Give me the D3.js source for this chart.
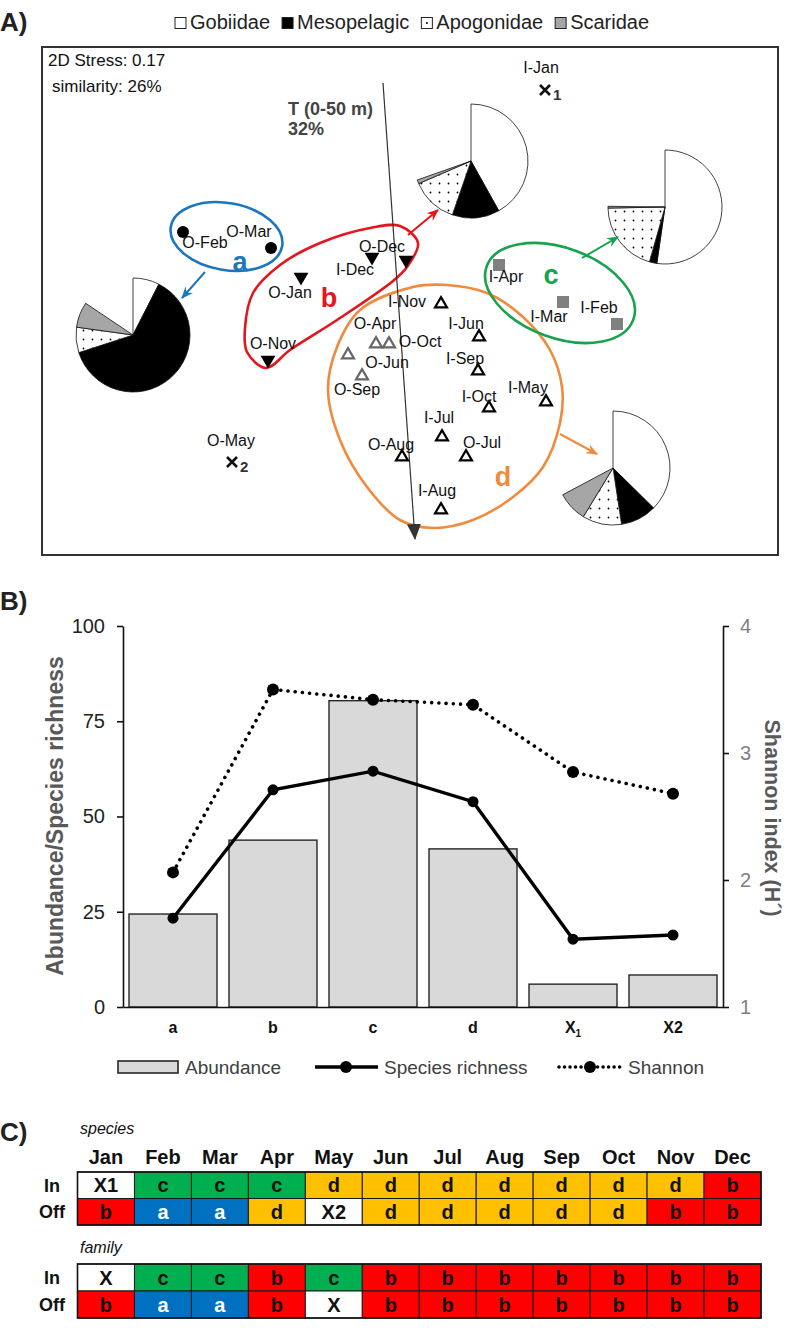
<!DOCTYPE html>
<html lang="en">
<head>
<meta charset="UTF-8">
<title>NMDS fish assemblages</title>
<style>
  body { margin: 0; background: #fff; }
  svg { display: block; }
  text { font-family: "Liberation Sans", Arial, sans-serif; }
  .cal { font-family: Lato, "Open Sans", sans-serif; }
</style>
</head>
<body>
<svg width="787" height="1328"></svg>
<script src="https://d3js.org/d3.v7.min.js"></script>
<script>
// ---------- data: panel A (NMDS) ----------
var families = ["Gobiidae", "Mesopelagic", "Apogonidae", "Scaridae"];

// sample scores on the two NMDS axes
var samples = [
  {name: "O-Feb", group: "a", x: -2.27, y: 0.69},
  {name: "O-Mar", group: "a", x: -1.39, y: 0.53},
  {name: "O-Jan", group: "b", x: -1.09, y: 0.24},
  {name: "I-Dec", group: "b", x: -0.38, y: 0.44},
  {name: "O-Dec", group: "b", x: -0.04, y: 0.41},
  {name: "O-Nov", group: "b", x: -1.42, y: -0.59},
  {name: "I-Apr", group: "c", x: 0.89, y: 0.36},
  {name: "I-Mar", group: "c", x: 1.53, y: -0.01},
  {name: "I-Feb", group: "c", x: 2.07, y: -0.23},
  {name: "I-Nov", group: "d", x: 0.31, y: -0.03},
  {name: "I-Jun", group: "d", x: 0.69, y: -0.36},
  {name: "O-Apr", group: "d", x: -0.34, y: -0.43, grey: true},
  {name: "O-Oct", group: "d", x: -0.21, y: -0.43, grey: true},
  {name: "O-Jun", group: "d", x: -0.62, y: -0.54, grey: true},
  {name: "O-Sep", group: "d", x: -0.48, y: -0.75, grey: true},
  {name: "I-Sep", group: "d", x: 0.68, y: -0.70},
  {name: "I-May", group: "d", x: 1.36, y: -1.01},
  {name: "I-Oct", group: "d", x: 0.79, y: -1.07},
  {name: "I-Jul", group: "d", x: 0.32, y: -1.36},
  {name: "O-Aug", group: "d", x: -0.08, y: -1.56},
  {name: "O-Jul", group: "d", x: 0.56, y: -1.56},
  {name: "I-Aug", group: "d", x: 0.31, y: -2.09},
  {name: "I-Jan", group: "X1", x: 1.35, y: 2.11},
  {name: "O-May", group: "X2", x: -1.78, y: -1.61}
];

// label offsets from each marker (px: dx, baseline dy)
var labelOffset = {
  "O-Feb": [22, 16], "O-Mar": [-22, -11], "O-Jan": [-11, 21], "I-Dec": [-17, 18],
  "O-Dec": [-24, -8], "O-Nov": [5, -11], "I-Apr": [7, 17], "I-Mar": [-14, 20],
  "I-Feb": [-18, -11], "I-Nov": [-34, 3], "I-Jun": [-13, -8], "O-Apr": [-1, -15],
  "O-Oct": [31, 3], "O-Jun": [39, 13], "O-Sep": [-5, 19], "I-Sep": [-13, -7],
  "I-May": [-18, -9], "I-Oct": [-10, -6], "I-Jul": [-3, -14], "O-Aug": [-11, -7],
  "O-Jul": [16, -9], "I-Aug": [-4, -14], "I-Jan": [-4, -17], "O-May": [-1, -16]
};

// cluster outlines (NMDS units)
var hullB = [[-1.57, 0.08], [-1.30, 0.36], [-0.90, 0.58], [-0.40, 0.73], [-0.10, 0.75],
  [0.08, 0.58], [-0.03, 0.34], [-0.17, 0.20], [-0.73, -0.19], [-1.20, -0.49],
  [-1.44, -0.67], [-1.63, -0.51], [-1.65, -0.27]];
var hullD = [[0.03, 0.14], [-0.50, -0.09], [-0.73, -0.46], [-0.82, -0.89], [-0.70, -1.39],
  [-0.43, -1.86], [-0.10, -2.19], [0.23, -2.27], [0.63, -2.19], [1.03, -1.96],
  [1.33, -1.66], [1.50, -1.22], [1.52, -0.86], [1.40, -0.49], [1.13, -0.16],
  [0.77, 0.08], [0.37, 0.16]];
var ellipseA = {cx: -1.835, cy: 0.645, rx: 0.565, ry: 0.335, angle: 10};
var ellipseC = {cx: 1.50, cy: 0.08, rx: 0.78, ry: 0.45, angle: 20};
var groupLetters = [["a", -1.70, 0.39], ["b", -0.81, 0.03], ["c", 1.41, 0.26], ["d", 0.93, -1.76]];

// family composition (% of catch) for each cluster, pies placed beside the clusters
var pieGroups = ["a", "b", "c", "d"];
var pieX = [-2.77, 0.61, 2.55, 2.03];
var pieY = [-0.34, 1.40, 0.94, -1.67];
var pieShares = [
  [7.5, 62.5, 7.2, 7.2],
  [41.9, 13.4, 13.2, 1.1],
  [52.3, 2.1, 20.3, 0.5],
  [37.4, 10.2, 11.1, 8.5]
];
var pieArrows = [
  [[-2.05, 0.29], [-2.28, 0.03]],
  [[-0.02, 0.66], [0.28, 0.91]],
  [[1.72, 0.43], [2.08, 0.64]],
  [[1.50, -1.33], [1.87, -1.53]]
];
// temperature vector (0-50 m)
var tempVector = [[-0.27, 2.18], [0.05, -2.38]];

// ---------- data: panel B ----------
var clusters = ["a", "b", "c", "d", "X1", "X2"];
var abundance = [24.4, 43.8, 80.4, 41.5, 6.0, 8.4];
var richness = [23.3, 57.0, 61.9, 53.9, 17.8, 18.9];
var shannon = [2.06, 3.50, 3.42, 3.38, 2.85, 2.68];
var leftTicks = [0, 25, 50, 75, 100];
var rightTicks = [1, 2, 3, 4];

// ---------- data: panel C ----------
var months = ["Jan", "Feb", "Mar", "Apr", "May", "Jun", "Jul", "Aug", "Sep", "Oct", "Nov", "Dec"];
var speciesIn = ["X1", "c", "c", "c", "d", "d", "d", "d", "d", "d", "d", "b"];
var speciesOff = ["b", "a", "a", "d", "X2", "d", "d", "d", "d", "d", "b", "b"];
var familyIn = ["X", "c", "c", "b", "c", "b", "b", "b", "b", "b", "b", "b"];
var familyOff = ["b", "a", "a", "b", "X", "b", "b", "b", "b", "b", "b", "b"];

var groupColor = {a: "#1c75bf", b: "#e5151e", c: "#17a34d", d: "#f08a3c"};
var cellColor = {a: "#0070c0", b: "#ff0000", c: "#00b050", d: "#ffc000", X: "#ffffff"};
var familyFill = ["#ffffff", "#000000", "url(#dots)", "#a6a6a6"];

var svg = d3.select("svg");
var defs = svg.append("defs");

var pat = defs.append("pattern").attr("id", "dots")
    .attr("patternUnits", "userSpaceOnUse").attr("width", 9).attr("height", 9);
pat.append("rect").attr("width", 9).attr("height", 9).attr("fill", "#fff");
pat.append("circle").attr("cx", 4.5).attr("cy", 4.5).attr("r", 0.9).attr("fill", "#000");

Object.keys(groupColor).forEach(function(k) {
  defs.append("marker").attr("id", "head-" + k)
      .attr("markerUnits", "userSpaceOnUse")
      .attr("markerWidth", 12).attr("markerHeight", 10)
      .attr("refX", 11).attr("refY", 5).attr("orient", "auto")
    .append("path").attr("d", "M0,0L12,5L0,10L4,5Z").attr("fill", groupColor[k]);
});
defs.append("marker").attr("id", "head-T")
    .attr("markerUnits", "userSpaceOnUse")
    .attr("markerWidth", 16).attr("markerHeight", 14)
    .attr("refX", 15).attr("refY", 7).attr("orient", "auto")
  .append("path").attr("d", "M0,0L16,7L0,14Z").attr("fill", "#333");

// ================= panel A =================
svg.append("text").attr("x", 0).attr("y", 31).attr("font-size", 26)
    .attr("font-weight", "bold").attr("fill", "#222").text("A)");

// legend
var legA = svg.append("g").attr("class", "cal");
var lx = 175;
families.forEach(function(f, i) {
  legA.append("rect").attr("x", lx).attr("y", 17.5).attr("width", 11).attr("height", 11)
      .attr("fill", i === 2 ? "#fff" : familyFill[i]).attr("stroke", "#222").attr("stroke-width", 1);
  if (i === 2) {
    legA.append("circle").attr("cx", lx + 5.5).attr("cy", 23).attr("r", 1).attr("fill", "#000");
  }
  var t = legA.append("text").attr("x", lx + 15).attr("y", 29).attr("font-size", 20)
      .attr("fill", "#222").text(f);
  lx += 15 + t.node().getComputedTextLength() + 12;
});

svg.append("rect").attr("x", 42).attr("y", 47).attr("width", 736).attr("height", 508)
    .attr("fill", "none").attr("stroke", "#333").attr("stroke-width", 2);

svg.append("text").attr("x", 48).attr("y", 66).attr("font-size", 17).attr("fill", "#111").text("2D Stress: 0.17");
svg.append("text").attr("x", 52).attr("y", 92).attr("font-size", 17).attr("fill", "#111").text("similarity: 26%");

var xA = d3.scaleLinear().domain([-3.68, 3.68]).range([42, 778]);
var yA = d3.scaleLinear().domain([-2.54, 2.54]).range([555, 47]);

// pies
var pie = d3.pie().sort(null).value(function(d) { return d; });
var arc = d3.arc().innerRadius(0).outerRadius(57);
pieGroups.forEach(function(g, i) {
  var shares = pieShares[i].slice();
  shares.push(100 - d3.sum(shares));
  var gp = svg.append("g").attr("transform", "translate(" + xA(pieX[i]) + "," + yA(pieY[i]) + ")");
  gp.selectAll("path").data(pie(shares).slice(0, 4)).enter().append("path")
      .attr("d", arc)
      .attr("fill", function(d, j) { return familyFill[j]; })
      .attr("stroke", "#111").attr("stroke-width", 0.8);
});

// cluster outlines
var hullLine = d3.line().x(function(d) { return xA(d[0]); }).y(function(d) { return yA(d[1]); })
    .curve(d3.curveCatmullRomClosed.alpha(0.5));
svg.append("path").attr("d", hullLine(hullD)).attr("fill", "none")
    .attr("stroke", groupColor.d).attr("stroke-width", 2.6);
svg.append("path").attr("d", hullLine(hullB)).attr("fill", "none")
    .attr("stroke", groupColor.b).attr("stroke-width", 2.6);
[[ellipseA, "a"], [ellipseC, "c"]].forEach(function(e) {
  var el = e[0], cx = xA(el.cx), cy = yA(el.cy);
  svg.append("ellipse").attr("cx", cx).attr("cy", cy)
      .attr("rx", xA(el.cx + el.rx) - cx).attr("ry", yA(el.cy - el.ry) - cy)
      .attr("transform", "rotate(" + el.angle + "," + cx + "," + cy + ")")
      .attr("fill", "none").attr("stroke", groupColor[e[1]]).attr("stroke-width", 2.6);
});

// arrows from clusters to pies
pieArrows.forEach(function(a, i) {
  svg.append("line")
      .attr("x1", xA(a[0][0])).attr("y1", yA(a[0][1]))
      .attr("x2", xA(a[1][0])).attr("y2", yA(a[1][1]))
      .attr("stroke", groupColor[pieGroups[i]]).attr("stroke-width", 2)
      .attr("marker-end", "url(#head-" + pieGroups[i] + ")");
});

// temperature vector
svg.append("line")
    .attr("x1", xA(tempVector[0][0])).attr("y1", yA(tempVector[0][1]))
    .attr("x2", xA(tempVector[1][0])).attr("y2", yA(tempVector[1][1]))
    .attr("stroke", "#333").attr("stroke-width", 1.2).attr("marker-end", "url(#head-T)");
svg.append("text").attr("x", 288).attr("y", 115).attr("font-size", 18).attr("font-weight", "bold")
    .attr("fill", "#444").text("T (0-50 m)");
svg.append("text").attr("x", 288).attr("y", 135).attr("font-size", 18).attr("font-weight", "bold")
    .attr("fill", "#444").text("32%");

// group letters
groupLetters.forEach(function(l) {
  svg.append("text").attr("x", xA(l[1])).attr("y", yA(l[2])).attr("dy", "0.35em")
      .attr("text-anchor", "middle").attr("font-size", 27).attr("font-weight", "bold")
      .attr("fill", groupColor[l[0]]).text(l[0]);
});

// sample markers
var triDown = d3.symbol().type(d3.symbolTriangle).size(95)();
var triUp = d3.symbol().type(d3.symbolTriangle).size(62)();
samples.forEach(function(s) {
  var px = xA(s.x), py = yA(s.y);
  var g = svg.append("g").attr("transform", "translate(" + px + "," + py + ")");
  if (s.group === "a") {
    g.append("circle").attr("r", 6).attr("fill", "#000");
  } else if (s.group === "b") {
    g.append("path").attr("d", triDown).attr("transform", "rotate(180)").attr("fill", "#000");
  } else if (s.group === "c") {
    g.append("rect").attr("x", -6).attr("y", -6).attr("width", 12).attr("height", 12).attr("fill", "#808080");
  } else if (s.group === "d") {
    g.append("path").attr("d", triUp).attr("fill", "#fff")
        .attr("stroke", s.grey ? "#666" : "#000").attr("stroke-width", 2.2);
  } else {
    g.append("path").attr("d", "M-5,-5L5,5M-5,5L5,-5").attr("stroke", "#111").attr("stroke-width", 2.6);
    g.append("text").attr("x", 8).attr("y", 10).attr("font-size", 15).attr("font-weight", "bold")
        .attr("fill", "#333").text(s.group.slice(1));
  }
  var off = labelOffset[s.name];
  svg.append("text").attr("x", px + off[0]).attr("y", py + off[1])
      .attr("text-anchor", "middle").attr("font-size", 16).attr("fill", "#111").text(s.name);
});

// ================= panel B =================
svg.append("text").attr("x", 0).attr("y", 610).attr("font-size", 26)
    .attr("font-weight", "bold").attr("fill", "#222").text("B)");

var xB = d3.scaleBand().domain(clusters).range([123, 723]).paddingInner(0.12).paddingOuter(0.06);
var yL = d3.scaleLinear().domain([0, 100]).range([1007, 626]);
var yR = d3.scaleLinear().domain([1, 4]).range([1007, 626]);

svg.append("g").selectAll("rect").data(abundance).enter().append("rect")
    .attr("x", function(d, i) { return xB(clusters[i]); })
    .attr("y", function(d) { return yL(d); })
    .attr("width", xB.bandwidth())
    .attr("height", function(d) { return yL(0) - yL(d); })
    .attr("fill", "#d9d9d9").attr("stroke", "#262626").attr("stroke-width", 1.4);

var axL = svg.append("g").attr("transform", "translate(123,0)")
    .call(d3.axisLeft(yL).tickValues(leftTicks).tickSize(6).tickSizeOuter(0).tickPadding(12));
axL.selectAll("text").attr("font-size", 20).attr("fill", "#222").style("font-family", "Liberation Sans, Arial, sans-serif");
var axR = svg.append("g").attr("transform", "translate(723,0)")
    .call(d3.axisRight(yR).tickValues(rightTicks).tickFormat(d3.format("d"))
      .tickSize(6).tickSizeOuter(0).tickPadding(11));
axR.selectAll("text").attr("font-size", 20).attr("fill", "#7f7f7f").style("font-family", "Liberation Sans, Arial, sans-serif");
var axB = svg.append("g").attr("transform", "translate(0,1007)")
    .call(d3.axisBottom(xB).tickSize(0).tickSizeOuter(0).tickPadding(15)
      .tickFormat(function(d) { return d === "X1" ? "X" : d; }));
axB.selectAll("text").attr("font-size", 16).attr("font-weight", "bold").attr("fill", "#111")
    .style("font-family", "Liberation Sans, Arial, sans-serif");
axB.selectAll(".tick").filter(function(d) { return d === "X1"; }).select("text")
    .append("tspan").attr("font-size", 10).attr("dy", 4).text("1");
[axL, axR, axB].forEach(function(a) {
  a.selectAll("path, line").attr("stroke", "#111").attr("stroke-width", 1.6);
});

var cxB = function(d, i) { return xB(clusters[i]) + xB.bandwidth() / 2; };
svg.append("path").datum(shannon)
    .attr("d", d3.line().x(cxB).y(function(d) { return yR(d); }))
    .attr("fill", "none").attr("stroke", "#000").attr("stroke-width", 3.6)
    .attr("stroke-linecap", "round").attr("stroke-dasharray", "0.01 7.2");
svg.append("g").selectAll("circle").data(shannon).enter().append("circle")
    .attr("cx", cxB).attr("cy", function(d) { return yR(d); }).attr("r", 6).attr("fill", "#000");
svg.append("path").datum(richness)
    .attr("d", d3.line().x(cxB).y(function(d) { return yL(d); }))
    .attr("fill", "none").attr("stroke", "#000").attr("stroke-width", 3.4);
svg.append("g").selectAll("circle").data(richness).enter().append("circle")
    .attr("cx", cxB).attr("cy", function(d) { return yL(d); }).attr("r", 5.5).attr("fill", "#000");

svg.append("text").attr("transform", "translate(63,816) rotate(-90)")
    .attr("text-anchor", "middle").attr("font-size", 23).attr("font-weight", "bold")
    .attr("fill", "#595959").text("Abundance/Species richness");
svg.append("text").attr("transform", "translate(765,818) rotate(90)")
    .attr("text-anchor", "middle").attr("font-size", 21.5).attr("font-weight", "bold")
    .attr("fill", "#595959").text("Shannon index (H\u00b4)");

// legend B
var legB = svg.append("g").attr("class", "cal");
legB.append("rect").attr("x", 118).attr("y", 1061).attr("width", 60).attr("height", 12)
    .attr("fill", "#d9d9d9").attr("stroke", "#262626").attr("stroke-width", 1.6);
legB.append("text").attr("x", 185).attr("y", 1074).attr("font-size", 19).attr("fill", "#404040").text("Abundance");
legB.append("line").attr("x1", 315).attr("x2", 378).attr("y1", 1067).attr("y2", 1067)
    .attr("stroke", "#000").attr("stroke-width", 3.4);
legB.append("circle").attr("cx", 346).attr("cy", 1067).attr("r", 6).attr("fill", "#000");
legB.append("text").attr("x", 384).attr("y", 1074).attr("font-size", 19).attr("fill", "#404040").text("Species richness");
legB.append("line").attr("x1", 559).attr("x2", 621).attr("y1", 1067).attr("y2", 1067)
    .attr("stroke", "#000").attr("stroke-width", 3.6).attr("stroke-linecap", "round")
    .attr("stroke-dasharray", "0.01 5.5");
legB.append("circle").attr("cx", 590).attr("cy", 1067).attr("r", 6).attr("fill", "#000");
legB.append("text").attr("x", 628).attr("y", 1074).attr("font-size", 19).attr("fill", "#404040").text("Shannon");

// ================= panel C =================
svg.append("text").attr("x", 0).attr("y", 1141).attr("font-size", 26)
    .attr("font-weight", "bold").attr("fill", "#222").text("C)");

var xC = d3.scaleBand().domain(months).range([77.5, 761]);
var tabC = svg.append("g").attr("class", "cal");

tabC.selectAll("text.month").data(months).enter().append("text")
    .attr("class", "month")
    .attr("x", function(d) { return xC(d) + xC.bandwidth() / 2; })
    .attr("y", 1164).attr("text-anchor", "middle")
    .attr("font-size", 20).attr("font-weight", "bold").attr("fill", "#111").text(function(d) { return d; });

function drawTable(title, titleY, rows, top, rowH) {
  tabC.append("text").attr("x", 80).attr("y", titleY).attr("font-size", 16)
      .attr("font-style", "italic").attr("fill", "#111").text(title);
  rows.forEach(function(r, ri) {
    var y0 = top + ri * rowH;
    tabC.append("text").attr("x", 52).attr("y", y0 + rowH / 2).attr("dy", "0.36em")
        .attr("text-anchor", "middle").attr("font-size", 18).attr("font-weight", "bold")
        .attr("fill", "#111").text(r[0]);
    r[1].forEach(function(v, ci) {
      var key = v.charAt(0);
      tabC.append("rect").attr("x", xC(months[ci])).attr("y", y0)
          .attr("width", xC.bandwidth()).attr("height", rowH)
          .attr("fill", cellColor[key]).attr("stroke", "#1a1a1a").attr("stroke-width", 1);
      tabC.append("text").attr("x", xC(months[ci]) + xC.bandwidth() / 2).attr("y", y0 + rowH / 2)
          .attr("dy", "0.36em").attr("text-anchor", "middle").attr("font-size", 20)
          .attr("font-weight", "bold").attr("fill", key === "a" ? "#fff" : "#111").text(v);
    });
  });
  tabC.append("rect").attr("x", 77.5).attr("y", top).attr("width", 683.5).attr("height", rowH * rows.length)
      .attr("fill", "none").attr("stroke", "#111").attr("stroke-width", 1.6);
}
drawTable("species", 1134, [["In", speciesIn], ["Off", speciesOff]], 1172, 26.5);
drawTable("family", 1253, [["In", familyIn], ["Off", familyOff]], 1264, 27);
</script>
</body>
</html>
